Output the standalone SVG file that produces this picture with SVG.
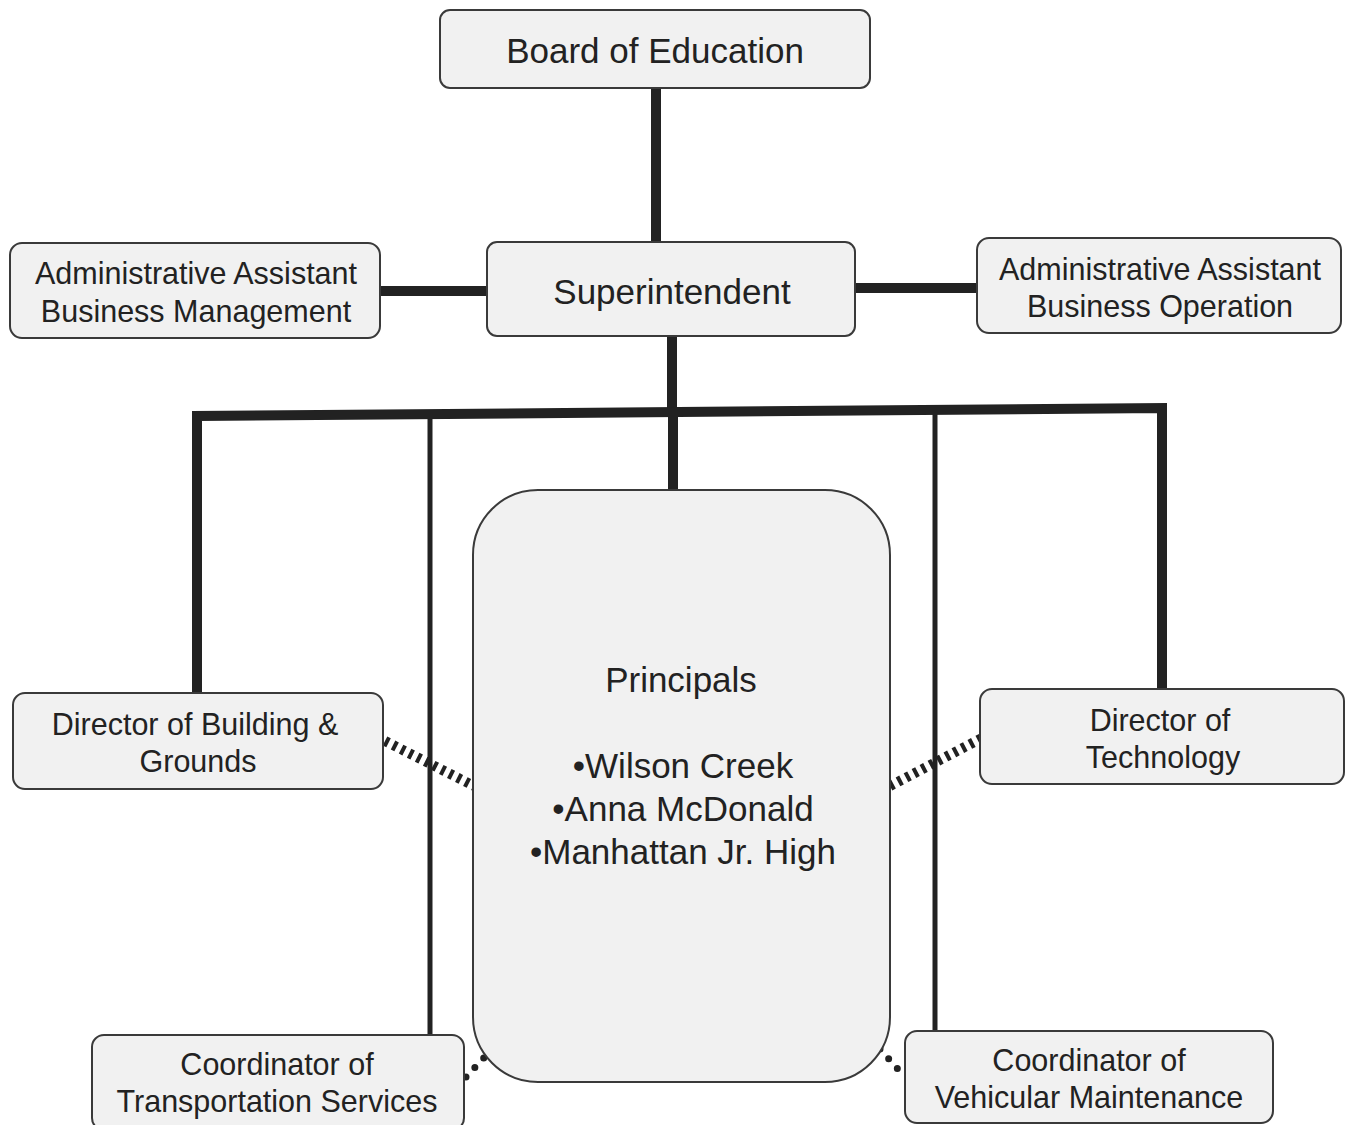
<svg xmlns="http://www.w3.org/2000/svg" width="1351" height="1125" viewBox="0 0 1351 1125">
<style>
.box{fill:#f1f1f1;stroke:#3a3a3a;stroke-width:2}
.t{font-family:"Liberation Sans",Arial,sans-serif;fill:#222;text-anchor:middle}
.big{font-size:35px}
.mid{font-size:30.5px}
.thick{stroke:#222;stroke-width:10;fill:none}
.thin{stroke:#222;stroke-width:5;fill:none}
.hash{stroke:#222;stroke-width:10;stroke-dasharray:4 5;fill:none}
.dot{stroke:#222;stroke-width:7;stroke-linecap:round;stroke-dasharray:0 13;fill:none}
</style>
<rect width="1351" height="1125" fill="#fff"/>
<g id="connectors">
<line class="thick" x1="656" y1="88" x2="656" y2="243"/>
<line class="thick" x1="380" y1="291" x2="487" y2="291"/>
<line class="thick" x1="855" y1="288" x2="977" y2="288"/>
<line class="thick" x1="672" y1="336" x2="672" y2="412"/>
<polyline class="thick" points="197,695 197,416 1162,408 1162,690"/>
<line class="thin" x1="430" y1="417" x2="430" y2="1036"/>
<line class="thick" x1="673" y1="412" x2="673" y2="491"/>
<line class="thin" x1="935" y1="413" x2="935" y2="1032"/>
<line class="hash" x1="385" y1="741" x2="478" y2="788"/>
<line class="hash" x1="890" y1="786" x2="982" y2="738"/>
<line class="dot" x1="466" y1="1077" x2="492" y2="1049"/>
<line class="dot" x1="880" y1="1049" x2="905" y2="1077"/>
</g>
<g id="board"><rect class="box" x="440" y="10" width="430" height="78" rx="10"/><text class="t big" x="655" y="63">Board of Education</text></g>
<g id="superintendent"><rect class="box" x="487" y="242" width="368" height="94" rx="10"/><text class="t big" x="672" y="304">Superintendent</text></g>
<g id="aa-mgmt"><rect class="box" x="10" y="243" width="370" height="95" rx="12"/><text class="t mid" x="196" y="284">Administrative Assistant</text><text class="t mid" x="196" y="322">Business Management</text></g>
<g id="aa-oper"><rect class="box" x="977" y="238" width="364" height="95" rx="12"/><text class="t mid" x="1160" y="280">Administrative Assistant</text><text class="t mid" x="1160" y="317">Business Operation</text></g>
<g id="principals"><rect class="box" x="473" y="490" width="417" height="592" rx="65"/><text class="t big" x="681" y="692">Principals</text><text class="t big" x="683" y="778">•Wilson Creek</text><text class="t big" x="683" y="821">•Anna McDonald</text><text class="t big" x="683" y="864">•Manhattan Jr. High</text></g>
<g id="dir-building"><rect class="box" x="13" y="693" width="370" height="96" rx="12"/><text class="t mid" x="195" y="735">Director of Building &amp;</text><text class="t mid" x="198" y="772">Grounds</text></g>
<g id="dir-tech"><rect class="box" x="980" y="689" width="364" height="95" rx="12"/><text class="t mid" x="1160" y="731">Director of</text><text class="t mid" x="1163" y="768">Technology</text></g>
<g id="coord-transport"><rect class="box" x="92" y="1035" width="372" height="95" rx="12"/><text class="t mid" x="277" y="1075">Coordinator of</text><text class="t mid" x="277" y="1112">Transportation Services</text></g>
<g id="coord-vehicle"><rect class="box" x="905" y="1031" width="368" height="92" rx="12"/><text class="t mid" x="1089" y="1071">Coordinator of</text><text class="t mid" x="1089" y="1108">Vehicular Maintenance</text></g>
</svg>
